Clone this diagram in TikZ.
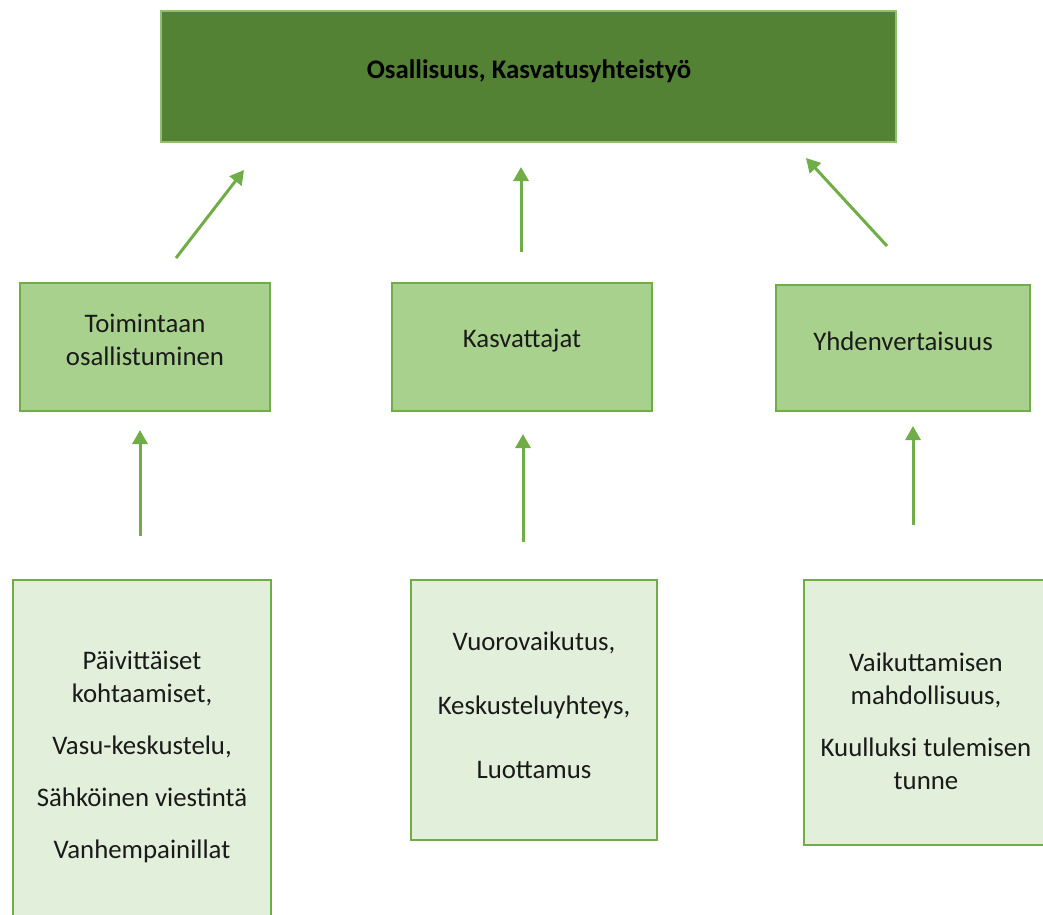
\documentclass[tikz,border=0pt]{standalone}
\usepackage{fontspec}
\setmainfont{Carlito}
\usetikzlibrary{arrows.meta}
\definecolor{topfill}{HTML}{548235}
\definecolor{topline}{HTML}{8FBF6F}
\definecolor{midfill}{HTML}{A9D18E}
\definecolor{lowfill}{HTML}{E2EFDA}
\definecolor{edge}{HTML}{70AD47}
\definecolor{ink}{HTML}{1A1A1A}
\tikzset{
  txt/.style={font=\fontsize{26.8}{33}\selectfont, text=ink, align=center, inner sep=0pt},
  topbox/.style={txt, draw=topline, line width=1.2pt, fill=topfill, font=\fontsize{26.8}{33}\selectfont\bfseries, text=black},
  midbox/.style={txt, draw=edge, line width=2pt, fill=midfill},
  lowbox/.style={txt, draw=edge, line width=2pt, fill=lowfill},
  conn/.style={draw=edge, line width=3pt, -{Triangle[length=14pt,width=15pt]}}
}
\begin{document}
\begin{tikzpicture}[x=1pt,y=-1pt]
\useasboundingbox (0,0) rectangle (1043,914);
% top
\node[topbox, minimum width=735pt, minimum height=131pt] (top) at (528.5,76.5) {};
\node[txt, font=\fontsize{26.8}{33}\selectfont\bfseries, text=black] (toptxt) at (529,71) {Osallisuus, Kasvatusyhteistyö};
% middle
\node[midbox, minimum width=250pt, minimum height=128pt] (m1) at (145,347) {};
\node[txt] (m1t) at (145,340) {Toimintaan\\osallistuminen};
\node[midbox, minimum width=260pt, minimum height=128pt] (m2) at (522,347) {};
\node[txt] (m2t) at (522,341) {Kasvattajat};
\node[midbox, minimum width=254pt, minimum height=126pt] (m3) at (903,348) {};
\node[txt] (m3t) at (903,341) {Yhdenvertaisuus};
% bottom
\node[lowbox, minimum width=258pt, minimum height=370pt] (b1) at (142,765) {};
\node[txt] (b1t) at (142,757) {Päivittäiset\\kohtaamiset,\\[19pt]Vasu-keskustelu,\\[19pt]Sähköinen viestintä\\[19pt]Vanhempainillat};
\node[lowbox, minimum width=246pt, minimum height=260pt] (b2) at (534,710) {};
\node[txt] (b2t) at (534,705) {Vuorovaikutus,\\[31pt]Keskusteluyhteys,\\[31pt]Luottamus};
\node[lowbox, minimum width=242pt, minimum height=265pt] (b3) at (925,712.5) {};
\node[txt] (b3t) at (926,721) {Vaikuttamisen\\mahdollisuus,\\[19pt]Kuulluksi tulemisen\\tunne};
% connector ends
\coordinate (a1s) at (176,258); \coordinate (a1e) at (244,170);
\coordinate (a2s) at (521,252); \coordinate (a2e) at (521,167);
\coordinate (a3s) at (887,246); \coordinate (a3e) at (806,158);
\coordinate (c1s) at (140,536); \coordinate (c1e) at (140,430);
\coordinate (c2s) at (523,542); \coordinate (c2e) at (523,434);
\coordinate (c3s) at (913,525); \coordinate (c3e) at (913,426);
\draw[conn] (a1s) -- (a1e);
\draw[conn] (a2s) -- (a2e);
\draw[conn] (a3s) -- (a3e);
\draw[conn] (c1s) -- (c1e);
\draw[conn] (c2s) -- (c2e);
\draw[conn] (c3s) -- (c3e);
\end{tikzpicture}
\end{document}
